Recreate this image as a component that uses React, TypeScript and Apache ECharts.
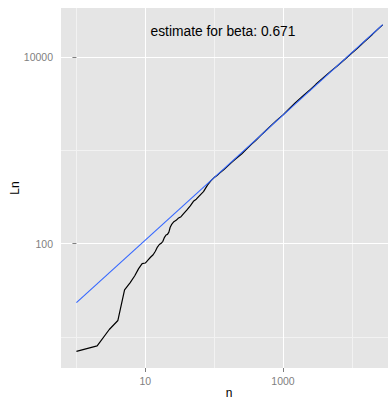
import React, { useEffect, useRef } from "react";
import * as echarts from "echarts";

// Observed data (n, Ln)
const nValues = [
  1, 2, 3, 4, 5, 6, 7, 8, 9, 10, 11, 12, 13, 14, 15, 16, 17, 18, 19, 20, 21, 22, 23, 24, 26, 28, 30, 33, 36, 40,
  45, 50, 55, 60, 70, 80, 90, 100, 110, 120, 140, 160, 180, 200, 250, 300, 350, 400, 500, 600, 700, 800, 1000,
  1200, 1500, 2000, 2500, 3000, 4000, 5000, 6000, 8000, 10000, 12000, 15000, 20000, 25000, 28000,
];
const lnValues = [
  7, 8, 12, 15, 32, 38, 45, 54, 61, 62, 67, 72, 76, 83, 92, 98, 101, 106, 117, 124, 126, 133, 150, 160, 172, 178,
  187, 195, 210, 229, 255, 285, 300, 322, 362, 425, 475, 512, 540, 572, 630, 688, 745, 800, 918, 1050, 1170, 1280,
  1505, 1712, 1905, 2090, 2410, 2750, 3230, 3920, 4520, 5130, 6180, 7150, 7980, 9600, 11100, 12500, 14600, 17700,
  20700, 22300,
];

// Fitted power-law line endpoints
const fitN = [1, 28000];
const fitL = [23.3, 22450];

// Axis breaks
const xMajorBreaks = [10, 1000];
const xMinorBreaks = [1, 100, 10000];
const yMajorBreaks = [100, 10000];
const yMinorBreaks = [10, 1000];

const annotation = "estimate for beta: 0.671";

const lg = (v: number) => Math.log10(v);

export default function App() {
  const ref = useRef<HTMLDivElement>(null);
  useEffect(() => {
    if (!ref.current) return;
    const chart = echarts.init(ref.current, null, { renderer: "svg" });
    const xMin = -0.224;
    const xMax = 4.655;
    const yMin = 0.666;
    const yMax = 4.529;
    const labelFmt = (v: number) => String(Math.round(Math.pow(10, v)));
    const font = "Liberation Sans, Arial, Helvetica, sans-serif";
    chart.setOption({
      animation: false,
      grid: {
        left: 61,
        right: 3,
        top: 8,
        bottom: 31,
        containLabel: false,
        outerBoundsMode: "none",
        show: true,
        backgroundColor: "#E5E5E5",
        borderWidth: 0,
      },
      xAxis: [
        {
          type: "value",
          min: xMin,
          max: xMax,
          name: "n",
          nameLocation: "middle",
          nameGap: 19,
          nameMoveOverlap: false,
          nameTextStyle: { color: "#000000", fontSize: 12, fontFamily: font },
          axisLine: { show: false },
          axisTick: {
            show: true,
            length: 4,
            lineStyle: { color: "#7F7F7F", width: 1 },
            customValues: xMajorBreaks.map(lg),
          },
          axisLabel: {
            show: true,
            color: "#7F7F7F",
            fontSize: 10.5,
            fontFamily: font,
            margin: 7,
            customValues: xMajorBreaks.map(lg),
            formatter: labelFmt,
          },
          splitLine: { show: true, lineStyle: { color: "#FFFFFF", width: 1 } },
          z: 2,
        },
        {
          type: "value",
          min: xMin,
          max: xMax,
          axisLine: { show: false },
          axisTick: { show: false, customValues: xMinorBreaks.map(lg) },
          axisLabel: { show: false, customValues: xMinorBreaks.map(lg) },
          splitLine: { show: true, lineStyle: { color: "#F2F2F2", width: 1 } },
          z: 1,
        },
      ],
      yAxis: [
        {
          type: "value",
          min: yMin,
          max: yMax,
          name: "Ln",
          nameLocation: "middle",
          nameGap: 40,
          nameMoveOverlap: false,
          nameTextStyle: { color: "#000000", fontSize: 12, fontFamily: font },
          axisLine: { show: false },
          axisTick: {
            show: true,
            length: 4,
            lineStyle: { color: "#7F7F7F", width: 1 },
            customValues: yMajorBreaks.map(lg),
          },
          axisLabel: {
            show: true,
            color: "#7F7F7F",
            fontSize: 10.5,
            fontFamily: font,
            margin: 8,
            customValues: yMajorBreaks.map(lg),
            formatter: labelFmt,
          },
          splitLine: { show: true, lineStyle: { color: "#FFFFFF", width: 1 } },
          z: 2,
        },
        {
          type: "value",
          min: yMin,
          max: yMax,
          axisLine: { show: false },
          axisTick: { show: false, customValues: yMinorBreaks.map(lg) },
          axisLabel: { show: false, customValues: yMinorBreaks.map(lg) },
          splitLine: { show: true, lineStyle: { color: "#F2F2F2", width: 1 } },
          z: 1,
        },
      ],
      series: [
        {
          type: "line",
          xAxisIndex: 0,
          yAxisIndex: 0,
          data: nValues.map((n, i) => [lg(n), lg(lnValues[i])]),
          showSymbol: false,
          symbol: "none",
          lineStyle: { color: "#000000", width: 1.2 },
          z: 3,
        },
        {
          type: "line",
          xAxisIndex: 0,
          yAxisIndex: 0,
          data: fitN.map((n, i) => [lg(n), lg(fitL[i])]),
          showSymbol: false,
          symbol: "none",
          lineStyle: { color: "#3366FF", width: 1.1 },
          z: 4,
        },
      ],
      graphic: [
        {
          type: "text",
          x: 223,
          y: 31,
          style: {
            text: annotation,
            fill: "#000",
            fontSize: 13.8,
            fontFamily: font,
            align: "center",
            verticalAlign: "middle",
          },
          z: 10,
        },
      ],
    });
    return () => chart.dispose();
  }, []);
  return (
    <div
      style={{
        position: "fixed",
        left: 0,
        top: 0,
        width: 388,
        height: 399,
        overflow: "hidden",
        background: "#fff",
      }}
    >
      <div ref={ref} style={{ width: 400, height: 399 }} />
    </div>
  );
}
